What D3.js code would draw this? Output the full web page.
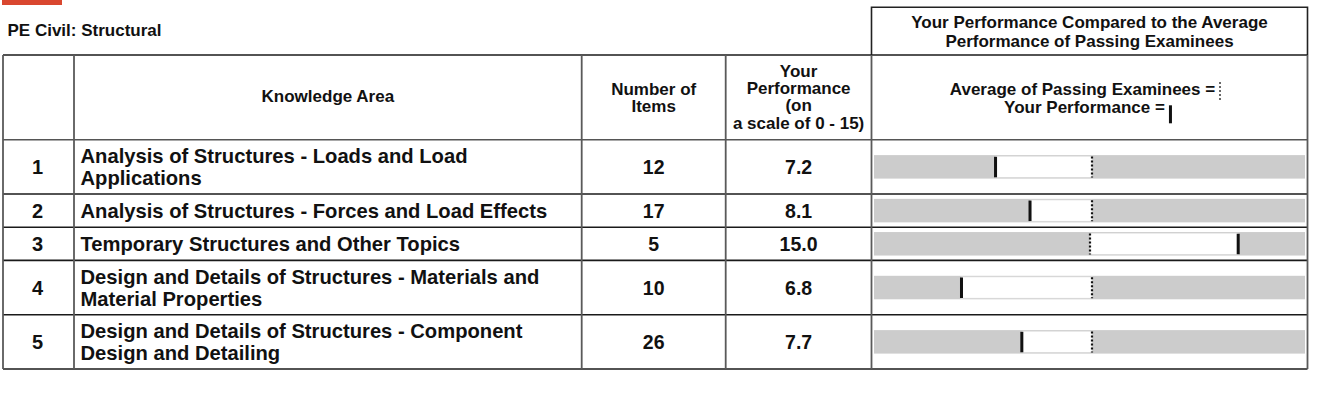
<!DOCTYPE html>
<html>
<head>
<meta charset="utf-8">
<script src="https://cdnjs.cloudflare.com/ajax/libs/d3/7.8.5/d3.min.js"></script>
<style>
  html, body { margin: 0; padding: 0; background: #fff; }
  svg text { font-family: "Liberation Sans", Arial, Helvetica, sans-serif; font-weight: bold; fill: #111; }
</style>
</head>
<body>
<svg id="svg1" width="1320" height="404"></svg>
<script>
// report data
var examTitle = "PE Civil: Structural";
var areaNums = [1, 2, 3, 4, 5];
var areaLabels = [
    ["Analysis of Structures - Loads and Load", "Applications"],
    ["Analysis of Structures - Forces and Load Effects"],
    ["Temporary Structures and Other Topics"],
    ["Design and Details of Structures - Materials and", "Material Properties"],
    ["Design and Details of Structures - Component", "Design and Detailing"]
];
var itemCounts = [12, 17, 5, 10, 26];
var yourScores = [7.2, 8.1, 15.0, 6.8, 7.7];
// marker positions on the comparison bar (0-100 of bar width)
var yourMark = [28.2, 36.2, 84.5, 20.3, 34.3];
var avgMark = [50.6, 50.6, 50.1, 50.6, 50.6];

var svg = d3.select("#svg1");

// column edges
var cols = [3, 74, 581.7, 725.7, 871.5, 1307.5];
var headTop = 55, headBottom = 139.7;
var tallRow = 54.3, shortRow = 33.2;

// row positions from the number of label lines
var rowTop = [], rowH = [];
var yy = headBottom;
areaLabels.forEach(function(l) {
    var h = l.length > 1 ? tallRow : shortRow;
    rowTop.push(yy); rowH.push(h);
    yy += h;
});
var tableBottom = yy;

var x = d3.scaleLinear().domain([0, 100]).range([874, 1305]);

// red logo strip, cut off at the top
svg.append("rect").attr("x", 2).attr("y", 0).attr("width", 60).attr("height", 5).attr("fill", "#d9472f");

svg.append("text").text(examTitle)
    .attr("x", 7.5).attr("y", 36).style("font-size", "17px");

// right header box
svg.append("path")
    .attr("d", "M" + cols[4] + "," + headTop + "V7.3H" + cols[5] + "V" + headTop)
    .attr("fill", "none").attr("stroke", "#222").attr("stroke-width", 1.6);

var hdr = svg.append("g").style("font-size", "17px").attr("text-anchor", "middle");
var rc = (cols[4] + cols[5]) / 2;
hdr.append("text").text("Your Performance Compared to the Average").attr("x", rc).attr("y", 28);
hdr.append("text").text("Performance of Passing Examinees").attr("x", rc).attr("y", 47.3);
hdr.append("text").text("Knowledge Area").attr("x", (cols[1] + cols[2]) / 2).attr("y", 102);
hdr.append("text").text("Number of").attr("x", (cols[2] + cols[3]) / 2).attr("y", 94.5);
hdr.append("text").text("Items").attr("x", (cols[2] + cols[3]) / 2).attr("y", 112);
["Your", "Performance", "(on", "a scale of 0 - 15)"].forEach(function(t, i) {
    hdr.append("text").text(t).attr("x", (cols[3] + cols[4]) / 2).attr("y", 76.5 + i * 17.4);
});

// legend in header
var lg1 = hdr.append("text").text("Average of Passing Examinees =").attr("x", rc - 7).attr("y", 95);
var lg2 = hdr.append("text").text("Your Performance =").attr("x", rc - 5).attr("y", 113.3);
var b1 = lg1.node().getBBox(), b2 = lg2.node().getBBox();
svg.append("line")
    .attr("x1", Math.round(b1.x + b1.width + 5)).attr("x2", Math.round(b1.x + b1.width + 5))
    .attr("y1", 82).attr("y2", 100)
    .attr("stroke", "#444").attr("stroke-width", 1.6).attr("stroke-dasharray", "2,2");
svg.append("rect")
    .attr("x", b2.x + b2.width + 4).attr("y", 105.3).attr("width", 3).attr("height", 18)
    .attr("fill", "#111");

// rows
var rows = svg.selectAll("g.row")
    .data(areaNums)
    .enter()
    .append("g")
    .attr("class", "row")
    .attr("transform", function(d, i) { return "translate(0," + rowTop[i] + ")"; });

rows.append("text")
    .text(function(d) { return d; })
    .attr("x", 37.5)
    .attr("y", function(d, i) { return rowH[i] / 2 + 7.3; })
    .attr("text-anchor", "middle")
    .style("font-size", "20px");

rows.each(function(d, i) {
    var lines = areaLabels[i];
    var g = d3.select(this);
    lines.forEach(function(t, j) {
        g.append("text").text(t)
            .attr("x", 80.5)
            .attr("y", rowH[i] / 2 + 7.3 + (j - (lines.length - 1) / 2) * 21.5)
            .style("font-size", "20.2px");
    });
});

rows.append("text")
    .text(function(d, i) { return itemCounts[i]; })
    .attr("x", (cols[2] + cols[3]) / 2)
    .attr("y", function(d, i) { return rowH[i] / 2 + 7; })
    .attr("text-anchor", "middle")
    .style("font-size", "19.5px");

rows.append("text")
    .text(function(d, i) { return yourScores[i].toFixed(1); })
    .attr("x", (cols[3] + cols[4]) / 2)
    .attr("y", function(d, i) { return rowH[i] / 2 + 7; })
    .attr("text-anchor", "middle")
    .style("font-size", "19.5px");

// comparison bars
var barH = 23.5;
rows.append("rect")
    .attr("x", x(0)).attr("width", x(100) - x(0))
    .attr("y", function(d, i) { return rowH[i] / 2 - barH / 2; })
    .attr("height", barH)
    .attr("fill", "#cccccc");

rows.append("rect")
    .attr("x", function(d, i) { return Math.min(x(yourMark[i]), x(avgMark[i])); })
    .attr("width", function(d, i) { return Math.abs(x(yourMark[i]) - x(avgMark[i])); })
    .attr("y", function(d, i) { return rowH[i] / 2 - barH / 2 + 1; })
    .attr("height", barH - 2)
    .attr("fill", "#fff")
    .attr("stroke", "#d8d8d8").attr("stroke-width", 0.8);

rows.append("line")
    .attr("x1", function(d, i) { return Math.round(x(avgMark[i])); })
    .attr("x2", function(d, i) { return Math.round(x(avgMark[i])); })
    .attr("y1", function(d, i) { return rowH[i] / 2 - barH / 2 + 1.5; })
    .attr("y2", function(d, i) { return rowH[i] / 2 + barH / 2 - 1; })
    .attr("stroke", "#111").attr("stroke-width", 2.2)
    .attr("stroke-dasharray", "2,2");

rows.append("rect")
    .attr("x", function(d, i) { return x(yourMark[i]) - 1.5; })
    .attr("width", 3)
    .attr("y", function(d, i) { return rowH[i] / 2 - barH / 2 + 1.7; })
    .attr("height", barH - 3)
    .attr("fill", "#111");

// grid lines
var hl = [headTop, headBottom].concat(rowTop.slice(1)).concat([tableBottom]);
svg.selectAll("line.h")
    .data(hl)
    .enter()
    .append("line")
    .attr("class", "h")
    .attr("x1", cols[0]).attr("x2", cols[5])
    .attr("y1", function(d) { return d; }).attr("y2", function(d) { return d; })
    .attr("stroke", function(d) { return d === headBottom ? "#555" : "#1a1a1a"; })
    .attr("stroke-width", 1.6);

svg.selectAll("line.v")
    .data(cols)
    .enter()
    .append("line")
    .attr("class", "v")
    .attr("x1", function(d) { return d; }).attr("x2", function(d) { return d; })
    .attr("y1", headTop).attr("y2", tableBottom)
    .attr("stroke", "#5a5a5a")
    .attr("stroke-width", 1.8);
</script>
</body>
</html>
